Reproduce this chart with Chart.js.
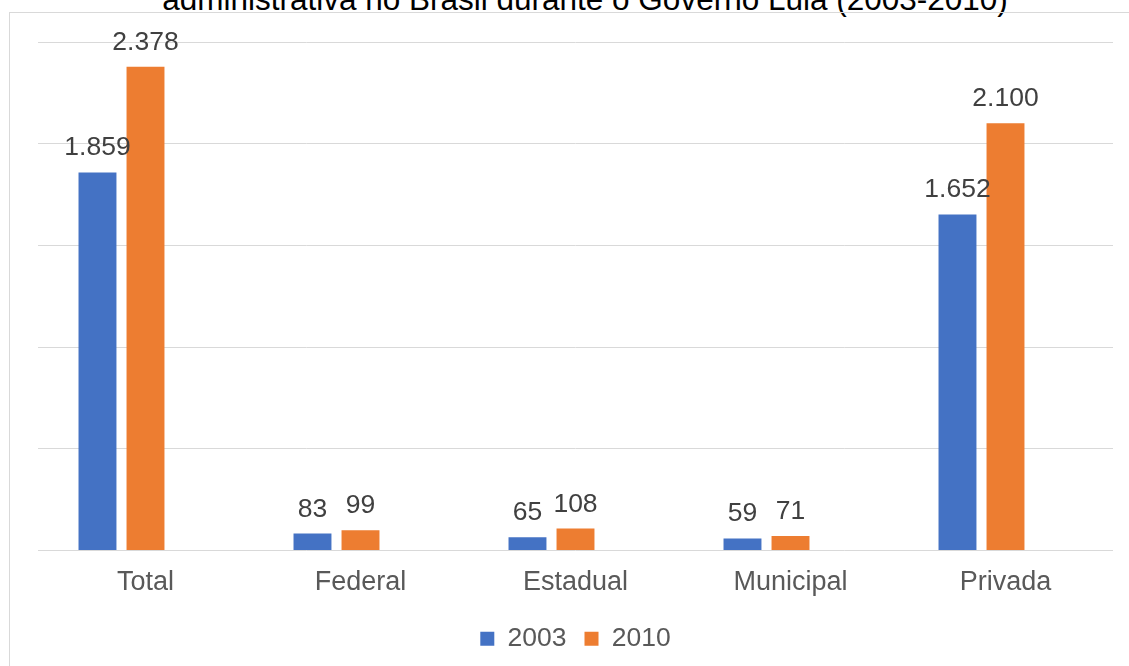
<!DOCTYPE html>
<html>
<head>
<meta charset="utf-8">
<script src="https://cdn.jsdelivr.net/npm/chart.js@4/dist/chart.umd.min.js"></script>
<style>
  body { margin: 0; background: #fff; overflow: hidden; width: 1129px; height: 666px; position: relative; }
  #title {
    position: absolute; left: 0; width: 1170px; top: -16px;
    text-align: center; font: 31.5px/31px "Liberation Sans", Arial, sans-serif; color: #000;
    white-space: nowrap;
  }
  #frame {
    position: absolute; left: 9px; top: 12px; width: 1300px; height: 800px;
    border: 1px solid #d9d9d9;
  }
  #wrap { position: absolute; left: 0; top: 0; width: 1129px; height: 666px; }
</style>
</head>
<body>
<div id="title">administrativa no Brasil durante o Governo Lula (2003-2010)</div>
<div id="frame"></div>
<div id="wrap"><canvas id="chart"></canvas></div>
<script>
// categorias e valores
const categories = ['Total', 'Federal', 'Estadual', 'Municipal', 'Privada'];
const values2003 = [1859, 83, 65, 59, 1652];
const values2010 = [2378, 99, 108, 71, 2100];
const yTicks = [0, 500, 1000, 1500, 2000, 2500];

const fontFamily = '"Liberation Sans", Arial, sans-serif';

function fmt(v) {
  // separador de milhar "." como no original
  return String(v).replace(/\B(?=(\d{3})+(?!\d))/g, '.');
}

const valueLabels = {
  id: 'valueLabels',
  afterDatasetsDraw(chart) {
    const ctx = chart.ctx;
    ctx.save();
    ctx.font = '26.5px ' + fontFamily;
    ctx.fillStyle = '#404040';
    ctx.textAlign = 'center';
    ctx.textBaseline = 'alphabetic';
    [0, 1].forEach(i => {
      const meta = chart.getDatasetMeta(i);
      meta.data.forEach((bar, j) => {
        const v = chart.data.datasets[i].data[j];
        ctx.fillText(fmt(v), bar.x, bar.y - 17);
      });
    });
    ctx.restore();
  }
};

new Chart(document.getElementById('chart'), {
  type: 'bar',
  data: {
    labels: categories,
    datasets: [
      { label: '2003', data: values2003, backgroundColor: '#4472c4', categoryPercentage: 0.67, barPercentage: 0.79 },
      { label: '2010', data: values2010, backgroundColor: '#ed7d31', categoryPercentage: 0.67, barPercentage: 0.79 },
      // série vazia (ocupa o terceiro espaço do grupo, como no gráfico original)
      { label: '', data: [], backgroundColor: 'rgba(0,0,0,0)', categoryPercentage: 0.67, barPercentage: 0.79 }
    ]
  },
  options: {
    responsive: true,
    maintainAspectRatio: false,
    animation: false,
    layout: { padding: { top: 42, left: 38, right: 16, bottom: 4 } },
    plugins: {
      legend: {
        position: 'bottom',
        labels: {
          filter: item => item.text !== '',
          boxWidth: 14, boxHeight: 14,
          color: '#595959',
          font: { family: fontFamily, size: 26.5 },
          padding: 18
        }
      },
      tooltip: { enabled: false }
    },
    scales: {
      x: {
        grid: { display: false },
        border: { display: false },
        ticks: { color: '#595959', font: { family: fontFamily, size: 27 }, padding: 8 },
        afterFit: axis => { axis.height = 57; }
      },
      y: {
        min: yTicks[0],
        max: yTicks[yTicks.length - 1],
        afterBuildTicks: axis => { axis.ticks = yTicks.map(v => ({ value: v })); },
        ticks: { display: false },
        border: { display: false },
        grid: { color: '#d9d9d9', lineWidth: 1, drawTicks: false }
      }
    }
  },
  plugins: [valueLabels]
});
</script>
</body>
</html>
